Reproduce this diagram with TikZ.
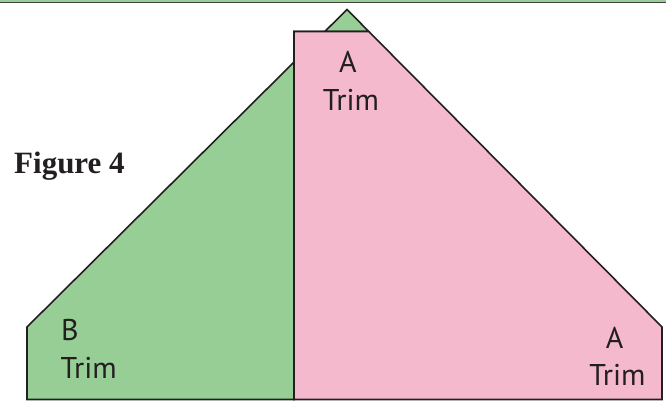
\documentclass[tikz,border=0pt]{standalone}
\usepackage{fontspec}
\setmainfont{Liberation Serif}
\newfontfamily\labelfont{PT Sans}
\definecolor{gfill}{RGB}{150,206,150}
\definecolor{pfill}{RGB}{245,185,206}
\definecolor{edge}{RGB}{35,31,32}
\begin{document}
\begin{tikzpicture}[x=1pt,y=-1pt,
  piece/.style={draw=edge,line width=1.6pt,line join=miter},
  lbl/.style={font=\labelfont\fontsize{30}{36}\selectfont,text=edge,inner sep=0pt,anchor=base},
  lblw/.style={lbl,anchor=base west},
  fig/.style={font=\bfseries\fontsize{31}{36}\selectfont,text=edge,inner sep=0pt,anchor=base west}]
\useasboundingbox (0,0) rectangle (666,401);
\fill[white] (0,0) rectangle (666,401);
% top border
\fill[gfill] (0,0) rectangle (666,1.8);
\fill[edge!85] (0,1.8) rectangle (666,3.3);
% green piece
\path[piece,fill=gfill] (27,399.5) -- (27,327) -- (347,9.5) -- (368.8,31.5) -- (294,31.5) -- (294,399.5) -- cycle;
% pink piece
\path[piece,fill=pfill] (294,399.5) -- (294,31.5) -- (368.8,31.5) -- (662,327) -- (662,399.5) -- cycle;
% labels
\node[fig] (figlabel) at (14,173.3) {Figure 4};
\node[lbl] (topA) at (348,72.7) {A};
\node[lbl] (topTrim) at (351,110.7) {Trim};
\node[lblw] (leftB) at (61,340.7) {B};
\node[lblw] (leftTrim) at (60.5,378.3) {Trim};
\node[lbl] (rightA) at (614.7,348.3) {A};
\node[lbl] (rightTrim) at (617.5,385) {Trim};
\end{tikzpicture}
\end{document}
